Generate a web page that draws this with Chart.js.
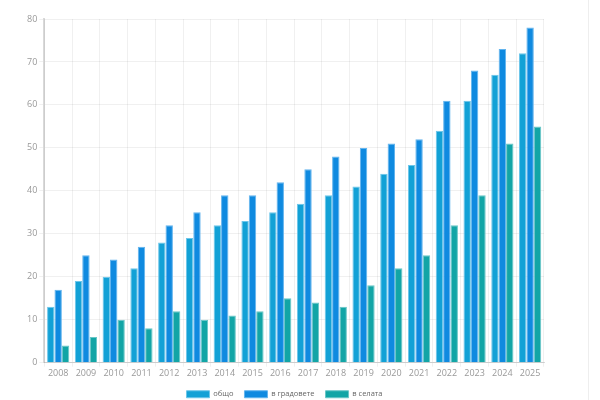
<!DOCTYPE html>
<html>
<head>
<meta charset="utf-8">
<script src="https://cdn.jsdelivr.net/npm/chart.js@4"></script>
<style>
html,body{margin:0;padding:0;background:#fff;overflow:hidden;}
#wrap{position:absolute;left:0;top:0;width:588px;height:408px;border-right:1px solid #eeeeee;}
</style>
</head>
<body>
<div id="wrap"><canvas id="c"></canvas></div>
<script>
const categories = ['2008','2009','2010','2011','2012','2013','2014','2015','2016','2017','2018','2019','2020','2021','2022','2023','2024','2025'];
const seriesNames = ['общо','в градовете','в селата'];
const totalValues = [13,19,20,22,28,29,32,33,35,37,39,41,44,46,54,61,67,72];
const cityValues = [17,25,24,27,32,35,39,39,42,45,48,50,51,52,61,68,73,78];
const villageValues = [4,6,10,8,12,10,11,12,15,14,13,18,22,25,32,39,51,55];
const yTicks = [0,10,20,30,40,50,60,70,80];

const colors = ['#12a1d6','#0f8ae0','#12a5a6'];
const borders = ['#6cc6ea','#62b4ee','#68c6c7'];

new Chart(document.getElementById('c'), {
  type: 'bar',
  data: {
    labels: categories,
    datasets: [
      {label: seriesNames[0], data: totalValues, backgroundColor: colors[0], borderColor: borders[0], borderWidth: 1},
      {label: seriesNames[1], data: cityValues, backgroundColor: colors[1], borderColor: borders[1], borderWidth: 1},
      {label: seriesNames[2], data: villageValues, backgroundColor: colors[2], borderColor: borders[2], borderWidth: 1}
    ]
  },
  options: {
    responsive: true,
    maintainAspectRatio: false,
    animation: false,
    datasets: {bar: {barPercentage: 1.0, categoryPercentage: 0.8}},
    layout: {padding: {top: 19, right: 44, left: 25, bottom: 0}},
    plugins: {
      legend: {
        position: 'bottom',
        labels: {boxWidth: 23, boxHeight: 7, padding: 11, color: '#666', font: {family: 'Open Sans', size: 7.5}}
      },
      title: {display: false},
      tooltip: {enabled: false}
    },
    scales: {
      x: {
        grid: {color: 'rgba(0,0,0,0.06)', tickLength: 4},
        border: {color: 'rgba(0,0,0,0.15)'},
        ticks: {color: '#999', padding: 1, font: {family: 'Open Sans', size: 9}}
      },
      y: {
        min: 0, max: 80,
        afterBuildTicks: (s) => { s.ticks = yTicks.map(v => ({value: v})); },
        grid: {color: 'rgba(0,0,0,0.06)', tickLength: 5},
        border: {color: 'rgba(0,0,0,0.15)', width: 2},
        ticks: {color: '#999', padding: 2, font: {family: 'Open Sans', size: 9}}
      }
    }
  }
});
</script>
</body>
</html>
